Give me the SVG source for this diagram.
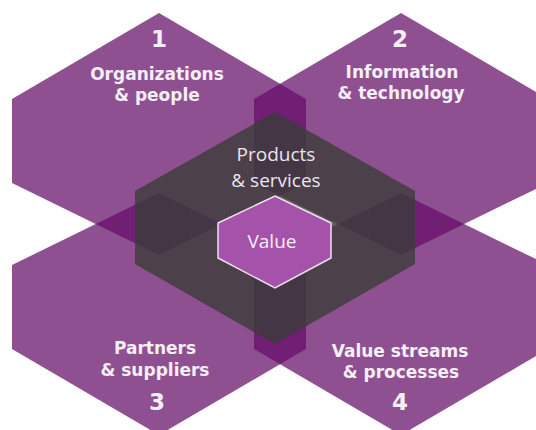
<svg xmlns="http://www.w3.org/2000/svg" width="536" height="430" viewBox="0 0 536 430">
  <style>
    .big { fill: rgb(100,12,104); fill-opacity: 0.72; }
    .num { font-family: "DejaVu Sans", Verdana, sans-serif; font-weight: bold; font-size: 23px; fill: #f6eff6; text-anchor: middle; }
    .lbl { font-family: "DejaVu Sans", Verdana, sans-serif; font-weight: bold; font-size: 17px; fill: #f6eff6; text-anchor: middle; }
    .prod { fill: #3b3c39; fill-opacity: 0.8; }
    .ptxt { font-family: "Open Sans", "Noto Sans", sans-serif; font-size: 19px; fill: #ece4ec; text-anchor: middle; }
    .val { fill: #a553aa; stroke: #efe0ef; stroke-width: 1.5; }
    .vtxt { font-family: "Open Sans", "Noto Sans", sans-serif; font-size: 19px; fill: #f6eef6; text-anchor: middle; }
  </style>
  <rect width="536" height="430" fill="#ffffff"/>
  <g id="hex-1">
    <polygon class="big" points="159,13 306,99 306,183 159,255 12,183 12,99"/>
    <text class="num" x="159" y="47">1</text>
    <text class="lbl" x="157" y="80">Organizations</text>
    <text class="lbl" x="157" y="101">&amp; people</text>
  </g>
  <g id="hex-2">
    <polygon class="big" points="401,13 548,99 548,183 401,255 254,183 254,99"/>
    <text class="num" x="400" y="47">2</text>
    <text class="lbl" x="402" y="78">Information</text>
    <text class="lbl" x="401" y="99">&amp; technology</text>
  </g>
  <g id="hex-3">
    <polygon class="big" points="159,193 306,265 306,349 159,435 12,349 12,265"/>
    <text class="lbl" x="155" y="354">Partners</text>
    <text class="lbl" x="155" y="376">&amp; suppliers</text>
    <text class="num" x="157" y="410">3</text>
  </g>
  <g id="hex-4">
    <polygon class="big" points="401,193 548,265 548,349 401,435 254,349 254,265"/>
    <text class="lbl" x="400" y="357">Value streams</text>
    <text class="lbl" x="401" y="378">&amp; processes</text>
    <text class="num" x="400" y="410">4</text>
  </g>
  <g id="products">
    <polygon class="prod" points="275,112 415,191 415,264 275,344 135,264 135,191"/>
    <text class="ptxt" x="276" y="161">Products</text>
    <text class="ptxt" x="276" y="187">&amp; services</text>
  </g>
  <g id="value">
    <polygon class="val" points="275,196 331,223 331,258 275,288 218,258 218,223"/>
    <text class="vtxt" x="272" y="248">Value</text>
  </g>
  <g id="connectors"/>
</svg>
